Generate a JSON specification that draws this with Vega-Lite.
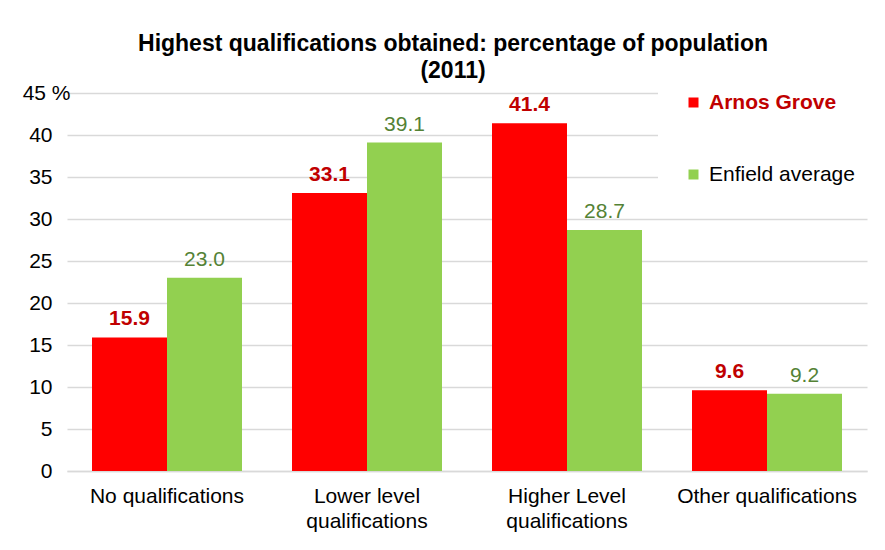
{
  "$schema": "https://vega.github.io/schema/vega-lite/v6.json",
  "width": 800,
  "height": 378,
  "autosize": {"type": "none"},
  "padding": {"left": 67, "top": 93, "right": 18, "bottom": 79},
  "background": "white",
  "config": {"font": "Liberation Sans", "view": {"stroke": null}},
  "title": {
    "text": ["Highest qualifications obtained: percentage of population", "(2011)"],
    "fontSize": 23,
    "fontWeight": "bold",
    "color": "#000000",
    "lineHeight": 27,
    "anchor": "middle",
    "dx": -14,
    "offset": -16
  },
  "data": {
    "values": [
      {"category": "No qualifications", "series": "Arnos Grove", "value": 15.9},
      {"category": "No qualifications", "series": "Enfield average", "value": 23.0},
      {"category": "Lower level qualifications", "series": "Arnos Grove", "value": 33.1},
      {"category": "Lower level qualifications", "series": "Enfield average", "value": 39.1},
      {"category": "Higher Level qualifications", "series": "Arnos Grove", "value": 41.4},
      {"category": "Higher Level qualifications", "series": "Enfield average", "value": 28.7},
      {"category": "Other qualifications", "series": "Arnos Grove", "value": 9.6},
      {"category": "Other qualifications", "series": "Enfield average", "value": 9.2}
    ]
  },
  "encoding": {
    "x": {
      "field": "category",
      "type": "nominal",
      "sort": null,
      "scale": {"paddingInner": 0.25, "paddingOuter": 0.125},
      "axis": {
        "title": null,
        "labelAngle": 0,
        "labelFontSize": 21,
        "labelColor": "#000000",
        "labelPadding": 14,
        "labelBaseline": "top",
        "labelLineHeight": 25,
        "labelLimit": 300,
        "ticks": false,
        "domainColor": "#D9D9D9",
        "domainWidth": 1.3,
        "labelExpr": "datum.value == 'Lower level qualifications' ? ['Lower level', 'qualifications'] : datum.value == 'Higher Level qualifications' ? ['Higher Level', 'qualifications'] : datum.label"
      }
    },
    "xOffset": {
      "field": "series",
      "type": "nominal",
      "sort": null,
      "scale": {"paddingInner": 0, "paddingOuter": 0}
    },
    "y": {
      "field": "value",
      "type": "quantitative",
      "scale": {"domain": [0, 45], "nice": false},
      "axis": {
        "title": null,
        "values": [0, 5, 10, 15, 20, 25, 30, 35, 40, 45],
        "domain": false,
        "ticks": false,
        "gridColor": "#D9D9D9",
        "gridWidth": 1.3,
        "labelFontSize": 21,
        "labelColor": "#000000",
        "labelPadding": {"condition": {"test": "datum.value == 45", "value": -3}, "value": 15},
        "labelExpr": "datum.value == 45 ? '45 %' : datum.label"
      }
    }
  },
  "layer": [
    {
      "mark": {"type": "bar"},
      "encoding": {
        "color": {
          "field": "series",
          "type": "nominal",
          "sort": null,
          "scale": {"domain": ["Arnos Grove", "Enfield average"], "range": ["#FF0000", "#92D050"]},
          "legend": {
            "title": null,
            "orient": "none",
            "legendX": 591,
            "legendY": -26,
            "direction": "vertical",
            "symbolType": "square",
            "symbolSize": 100,
            "symbolStrokeWidth": 0,
            "labelFontSize": 21,
            "labelColor": {"expr": "datum.value == 'Arnos Grove' ? '#C00000' : '#000000'"},
            "labelFontWeight": {"expr": "datum.value == 'Arnos Grove' ? 'bold' : 'normal'"},
            "labelOffset": 5,
            "labelLimit": 300,
            "rowPadding": 50,
            "padding": 25,
            "fillColor": "white"
          }
        }
      }
    },
    {
      "transform": [{"filter": "datum.series == 'Arnos Grove'"}],
      "mark": {"type": "text", "baseline": "alphabetic", "dy": -12, "fontSize": 21, "fontWeight": "bold", "color": "#C00000"},
      "encoding": {"text": {"field": "value", "type": "quantitative", "format": ".1f"}}
    },
    {
      "transform": [{"filter": "datum.series == 'Enfield average'"}],
      "mark": {"type": "text", "baseline": "alphabetic", "dy": -12, "fontSize": 21, "color": "#548235"},
      "encoding": {"text": {"field": "value", "type": "quantitative", "format": ".1f"}}
    }
  ]
}
